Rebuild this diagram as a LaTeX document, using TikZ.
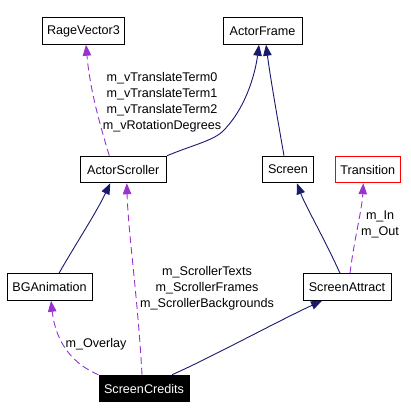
\documentclass[tikz,border=0pt]{standalone}
\usepackage{fontspec}
\setmainfont{Liberation Sans}
\usetikzlibrary{arrows.meta}
\definecolor{navyc}{HTML}{191970}
\definecolor{purc}{HTML}{9A32CD}
\tikzset{
  cls/.style={draw=black, line width=1pt, inner sep=0pt, minimum height=26.5pt, font=\fontsize{12.6}{16}\selectfont},
  inh/.style={draw=navyc, line width=0.9pt, -{Triangle[length=11pt,width=8.5pt]}},
  use/.style={draw=purc, line width=0.9pt, dash pattern=on 7pt off 4pt, -{Triangle[length=11pt,width=8.5pt]}},
  lbl/.style={align=center, inner sep=0pt, font=\fontsize{12.6}{16}\selectfont}
}
\begin{document}
\begin{tikzpicture}[x=1pt,y=-1pt]
\useasboundingbox (0,0) rectangle (410,419);
\node[cls, minimum width=82.5pt] (rv) at (83.5,31) {RageVector3};
\node[cls, minimum width=79pt] (af) at (262.5,31) {ActorFrame};
\node[cls, minimum width=86.5pt] (as) at (123.3,169.5) {ActorScroller};
\node[cls, minimum width=50.5pt] (sc) at (288,169.5) {Screen};
\node[cls, draw=red, minimum width=65.5pt] (tr) at (367.8,169.5) {Transition};
\node[cls, minimum width=85pt] (bg) at (49.5,287) {BGAnimation};
\node[cls, minimum width=88pt] (sa) at (347,287) {ScreenAttract};
\node[cls, fill=black, text=white, minimum width=90pt] (cr) at (144,388.5) {ScreenCredits};

% inheritance
\draw[inh] (as.north east) .. controls (190,146) and (212,141) .. (222,132) .. controls (245,110) and (255,75) .. ([xshift=-3.5pt]af.south);
\draw[inh] ([xshift=-4pt]sc.north) .. controls (276,110) and (270,75) .. ([xshift=3.5pt]af.south);
\draw[inh] ([xshift=9.5pt]bg.north) .. controls (75,245) and (95,215) .. ([xshift=-13pt]as.south);
\draw[inh] ([xshift=28pt]cr.north) .. controls (210,358) and (280,320) .. ([xshift=-25pt]sa.south);
\draw[inh] ([xshift=-7pt]sa.north) .. controls (325,240) and (305,205) .. ([xshift=9pt]sc.south);

% usage
\draw[use] ([xshift=-14pt]as.north) .. controls (100,125) and (90,90) .. ([xshift=2.5pt]rv.south);
\draw[use] ([xshift=-2pt]cr.north) .. controls (138,300) and (128,230) .. ([xshift=3.5pt]as.south);
\draw[use] (cr.north west) .. controls (75,365) and (56,345) .. ([xshift=1.5pt]bg.south);
\draw[use] ([xshift=3pt]sa.north) .. controls (354,240) and (362,210) .. ([xshift=-4.5pt]tr.south);

% labels
\node[lbl] (l1) at (162,102) {m\_vTranslateTerm0\\m\_vTranslateTerm1\\m\_vTranslateTerm2\\m\_vRotationDegrees};
\node[lbl] (l2) at (207,288) {m\_ScrollerTexts\\m\_ScrollerFrames\\m\_ScrollerBackgrounds};
\node[lbl] (l3) at (96,344) {m\_Overlay};
\node[lbl] (l4) at (380,224) {m\_In\\m\_Out};
\end{tikzpicture}
\end{document}
